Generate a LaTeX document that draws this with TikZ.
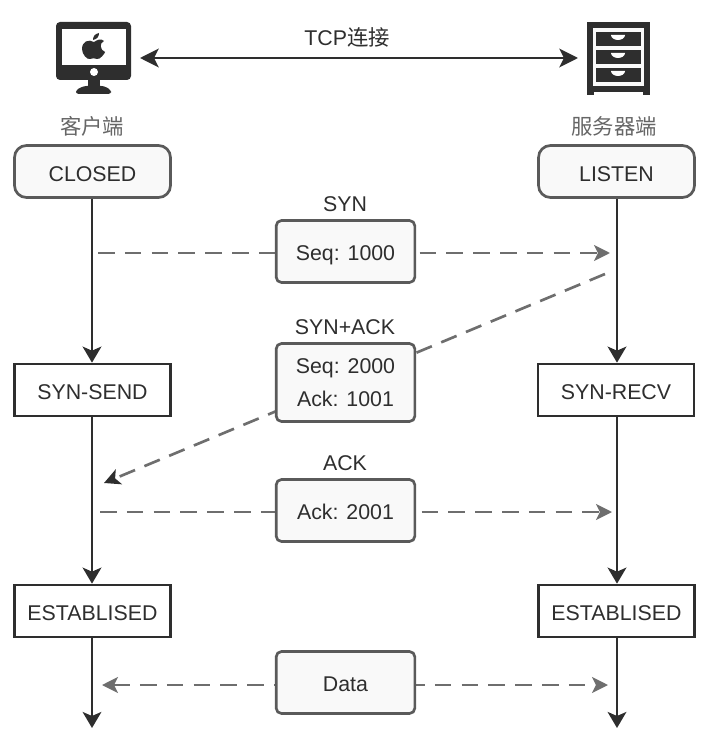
\documentclass[tikz,border=0pt]{standalone}
\usepackage{fontspec}
\setmainfont{Liberation Sans}
\newfontfamily\cjk{Noto Sans CJK SC}
\definecolor{hsInk}{HTML}{2E2E2E}
\definecolor{hsDash}{HTML}{6E6E6E}
\definecolor{hsEdge}{HTML}{5A5A5A}
\definecolor{hsFill}{HTML}{F9F9F9}
\definecolor{hsLabel}{HTML}{666666}
\usetikzlibrary{arrows.meta,backgrounds}

\begin{document}
\begin{tikzpicture}[x=0.75pt,y=-0.75pt,
                    state/.style={draw=hsInk,line width=2pt,fill=white,text=hsInk,font=\fontsize{16}{19}\selectfont,
                                  minimum width=117pt,minimum height=39pt,inner sep=0pt,text height=14.5pt,text depth=0pt},
                    start/.style={state,draw=hsEdge,fill=hsFill,rounded corners=9pt},
                    packet/.style={draw=hsEdge,line width=2pt,fill=hsFill,text=hsInk,rounded corners=4pt,
                                   font=\fontsize{16}{24.75}\selectfont,minimum width=104pt,inner sep=0pt},
                    title/.style={text=hsInk,font=\fontsize{16}{19}\selectfont,inner sep=0pt},
                    side/.style={text=hsLabel,font=\cjk\fontsize{16}{19}\selectfont,inner sep=0pt},
                    life/.style={draw=hsInk,line width=2pt,-{Stealth[length=12pt,width=14pt,inset=3pt]}},
                    msg/.style={draw=hsDash,line width=2pt,dash pattern=on 12.5pt off 7.6pt,
                                -{Stealth[length=12pt,width=12pt,inset=3pt]}}]
  \useasboundingbox (0,0) rectangle (721,752);

  % client icon
  \fill[hsInk,rounded corners=3pt] (56,22) rectangle (131,80);
  \fill[white] (62,29) rectangle (126,65);
  \fill[white] (94,72) circle (4);
  \fill[hsInk] (88,79) rectangle (100,88);
  \fill[hsInk,rounded corners=2pt] (76,94) -- (76,90) -- (84,86) -- (104,86) -- (111,90) -- (111,94) -- cycle;
  \fill[hsInk] (94,42) .. controls (89,39) and (82,41) .. (82,49)
               .. controls (82,54) and (87,60) .. (90,59)
               .. controls (92,58) and (95,58) .. (97,59)
               .. controls (100,60) and (105,53) .. (105,52)
               .. controls (100,50) and (99,43) .. (104,41)
               .. controls (101,38) and (97,40) .. (94,42) -- cycle;
  \fill[hsInk] (93,40) .. controls (93,36) and (95,34) .. (99,33)
               .. controls (99,37) and (97,39) .. (93,40) -- cycle;

  % server icon
  \fill[hsInk] (587,22) rectangle (650,95);
  \fill[white] (594,92) rectangle (643,95);
  \fill[hsFill] (593,28) rectangle (644,86);
  \foreach \drawerY in {32,50,68} {
    \fill[hsInk] (596,\drawerY) rectangle (641,\drawerY+14.5);
    \fill[white] (611,\drawerY+3) arc[start angle=180,end angle=360,x radius=7,y radius=-5] -- cycle;
  }

  \coordinate (pc) at (140,58);
  \coordinate (rack) at (578,58);
  \node[title] (tcp) at (347,37) {TCP{\cjk 连接}};
  \node[side] (client) at (92,126) {客户端};
  \node[side] (server) at (614,126) {服务器端};

  \node[start] (closed) at (92.5,171.5) {CLOSED};
  \node[start] (listen) at (616.5,171.5) {LISTEN};
  \node[state] (send) at (92.5,390) {SYN-SEND};
  \node[state] (recv) at (616,390) {SYN-RECV};
  \node[state] (estc) at (92.5,611) {ESTABLISED};
  \node[state] (ests) at (616.5,611) {ESTABLISED};

  \node[packet,minimum height=46.5pt,text height=14pt,text depth=0pt] (syn) at (345.5,251.5) {Seq: 1000};
  \node[packet,minimum height=58.5pt,align=center] (synack) at (345.5,382.5) {\raisebox{-1pt}{Seq: 2000}\\\raisebox{-1pt}{Ack: 1001}};
  \node[packet,minimum height=46.5pt,text height=14pt,text depth=0pt] (ack) at (345.5,510.5) {Ack: 2001};
  \node[packet,minimum height=46.5pt,text height=14pt,text depth=0pt] (data) at (345.5,682.5) {Data};

  \node[title] (synl) at (345,204) {SYN};
  \node[title] (synackl) at (345,327) {SYN+ACK};
  \node[title] (ackl) at (345,463) {ACK};

  \coordinate (endc) at (92,728);
  \coordinate (ends) at (617,728);
  \coordinate (a1) at (98,253);
  \coordinate (a2) at (610,253);
  \coordinate (b1) at (605,274);
  \coordinate (b2) at (104,483);
  \coordinate (c1) at (100,512);
  \coordinate (c2) at (612,512);
  \coordinate (d1) at (102,685);
  \coordinate (d2) at (608,685);

  \draw[draw=hsInk,line width=2.2pt,{Stealth[length=14pt,width=14pt,inset=3.5pt]}-{Stealth[length=14pt,width=14pt,inset=3.5pt]}] (pc) -- (rack);

  \draw[life] (closed.south -| endc) -- (send.north -| endc);
  \draw[life] (send.south -| endc) -- (estc.north -| endc);
  \draw[life] (estc.south -| endc) -- (endc);
  \draw[life] (listen.south -| ends) -- (recv.north -| ends);
  \draw[life] (recv.south -| ends) -- (ests.north -| ends);
  \draw[life] (ests.south -| ends) -- (ends);

  \begin{scope}[on background layer]
    \draw[msg] (a1) -- (a2);
    \draw[msg,-{Stealth[length=12pt,width=12pt,inset=3pt,color=hsInk]}] (b1) -- (b2);
    \draw[msg] (c1) -- (c2);
    \draw[msg,{Stealth[length=12pt,width=12pt,inset=3pt]}-{Stealth[length=12pt,width=12pt,inset=3pt]}] (d1) -- (d2);
  \end{scope}
\end{tikzpicture}
\end{document}
